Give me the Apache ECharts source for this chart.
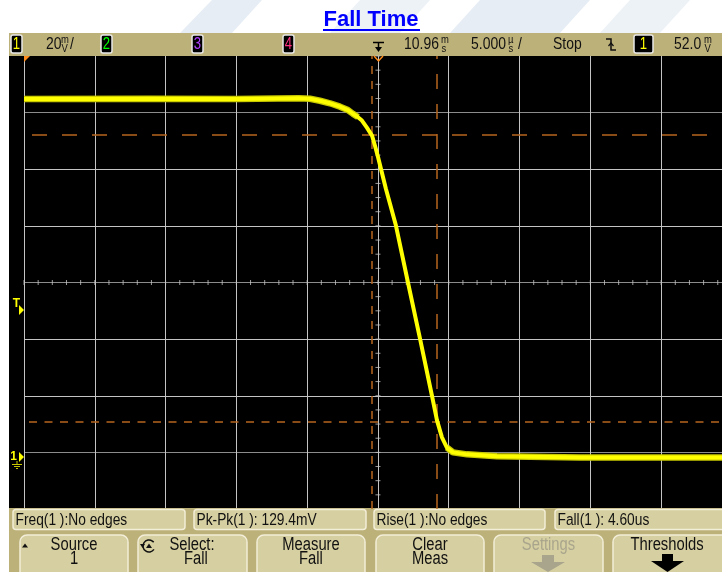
<!DOCTYPE html>
<html>
<head>
<meta charset="utf-8">
<script src="https://cdn.jsdelivr.net/npm/echarts@6.0.0/dist/echarts.min.js"></script>
<style>
html, body { margin: 0; padding: 0; background: #fff; }
#chart { width: 722px; height: 572px; }
</style>
</head>
<body>
<div id="chart"></div>
<script>
// scope settings (status line)
var mvPerDiv = 20;
var usPerDiv = 5;
var centerMv = 61.8;      // level at screen centre, ground marker is ~3.1 div below
var visibleDivs = 9.86;   // the right edge of the screen is cut off in the capture

// channel 1 trace (time in us from trigger, level in mV)
var traceUs = [-25, -16.2, -10, -5.6, -4.8, -4.1, -3.39, -2.68, -2.12, -1.77, -1.41, -1.13, -0.78, -0.42, -0.21, 0, 0.21, 0.56, 1.27, 2.12, 2.97, 3.81, 4.17, 4.52, 4.87, 5.3, 6.29, 8.4, 14.27, 24.3];
var traceMv = [126.6, 126.7, 126.6, 126.9, 126.7, 126.0, 125.1, 123.9, 122.7, 121.4, 120.2, 119.0, 116.5, 113.7, 110.1, 106.2, 102.0, 94.9, 81.9, 61.8, 42.0, 21.9, 13.1, 7.1, 3.5, 1.8, 1.1, 0.4, 0.0, 0.0];

// 90% / 10% threshold levels and the two time markers
var thresholdMv = [114.0, 12.6];
var markerUs = [-0.42, 4.15];

// texts
var measurements = ['Freq(1 ):No edges', 'Pk-Pk(1 ): 129.4mV', 'Rise(1 ):No edges', 'Fall(1 ): 4.60us'];
var softKeys = [['Source', '1'], ['Select:', 'Fall'], ['Measure', 'Fall'], ['Clear', 'Meas'], ['Settings', ''], ['Thresholds', '']];

var FONT = '"Liberation Sans", Arial, sans-serif';
var SQ = 0.82;   // scope font is narrow
var TAN = '#bdb17a';
var KEY = '#d6cfa1';
var ORANGE = '#b8651f';

function toDiv(mv) { return (mv - centerMv) / mvPerDiv; }

var trace = traceUs.map(function (t, i) { return [t, toDiv(traceMv[i])]; });
// noisy flat parts get a darker fringe
var flats = trace.map(function (p) { return (p[0] <= -1.41 || p[0] >= 4.87) ? p : [p[0], null]; });

// graticule ticks on the centre lines
var ticks = [];
for (var i = -25; i <= 25; i++) ticks.push({ value: [i * usPerDiv / 5, 0], symbolSize: [1, 5] });
for (var j = -16; j <= 16; j++) ticks.push({ value: [0, j / 4], symbolSize: [5, 1] });

var g = [];
function box(x, y, w, h, fill, stroke, r, z) {
    g.push({ type: 'rect', z: z || 1, shape: { x: x, y: y, width: w, height: h, r: r || 0 },
        style: { fill: fill, stroke: stroke || null, lineWidth: stroke ? 1.5 : 0 } });
}
function txt(x, y, s, size, fill, align, bold, sx) {
    g.push({ type: 'text', z: 5, x: x, y: y, scaleX: sx || SQ,
        style: { text: s, font: (bold ? 'bold ' : '') + size + 'px ' + FONT, fill: fill || '#111',
            align: align || 'left', verticalAlign: 'middle',
            textAlign: align || 'left', textVerticalAlign: 'middle' } });
}
function poly(points, fill, z) {
    g.push({ type: 'polygon', z: z || 5, shape: { points: points }, style: { fill: fill } });
}
function pline(points, stroke, w, z) {
    g.push({ type: 'polyline', z: z || 5, shape: { points: points }, style: { stroke: stroke, lineWidth: w || 1, fill: null } });
}
function stacked(x, top, bottom) {
    txt(x, 40, top, 10.5, '#111', 'left', false, 0.9);
    txt(x + 0.5, 49, bottom, 10.5, '#111', 'left', false, 0.9);
}

// faint watermark stripes behind the title
poly([[180, 33], [232, 33], [262, 0], [212, 0]], '#e6edf4', 0);
poly([[330, 33], [400, 33], [430, 0], [360, 0]], '#edf2f7', 0);
poly([[450, 33], [560, 33], [590, 0], [480, 0]], '#e6edf4', 0);
poly([[600, 33], [660, 33], [690, 0], [630, 0]], '#edf2f7', 0);

// title
txt(371, 20, 'Fall Time', 22, '#0000ff', 'center', true, 1);
box(323, 29, 97, 2, '#0000ff', null, 0, 5);

// status line
box(9, 33, 713, 23, TAN);
box(9, 56, 15, 452, '#000');
var chBoxes = [[11, '1', '#ffff00'], [101, '2', '#00ff00'], [192, '3', '#b040ff'], [283, '4', '#ff3080']];
chBoxes.forEach(function (c) {
    box(c[0], 35, 11, 18, '#000', '#e8e8e8', 2, 3);
    txt(c[0] + 5.5, 44.5, c[1], 16, c[2], 'center');
});
txt(46, 44, '20', 17);
stacked(61, 'm', 'V');
txt(70, 44, '/', 17);
// trigger position icon
pline([[373, 42.5], [384, 42.5]], '#000', 1.5);
pline([[378.5, 42.5], [378.5, 49]], '#000', 1.5);
poly([[375, 47], [382, 47], [378.5, 52]], '#000');
txt(404, 44, '10.96', 17);
stacked(441, 'm', 's');
txt(471, 44, '5.000', 17);
stacked(508, 'µ', 's');
txt(518, 44, '/', 17);
txt(553, 44, 'Stop', 17);
// falling edge trigger symbol
pline([[606, 39], [611, 39], [611, 50], [616, 50]], '#111', 1.5);
pline([[608.5, 46], [611, 43], [613.5, 46]], '#111', 1.2);
box(634, 35, 19, 18, '#000', '#e8e8e8', 2, 3);
txt(643.5, 44.5, '1', 16, '#ffff00', 'center');
txt(674, 44, '52.0', 17);
stacked(704, 'm', 'V');

// screen markers
poly([[24, 56], [30, 56], [24, 62]], '#ff8c1a', 100);
pline([[374, 56], [378.5, 61], [383, 56]], '#ff8c1a', 1.5, 100);
txt(16.5, 304, 'T', 12, '#ffff00', 'center', true, 1);
poly([[19, 305], [24, 310], [19, 315]], '#ffff00');
txt(13.5, 457, '1', 12, '#ffff00', 'center', true, 1);
poly([[19, 452], [24, 457], [19, 462]], '#ffff00');
pline([[17, 461], [17, 464]], '#c8c800', 1);
pline([[12, 464.5], [22, 464.5]], '#c8c800', 1);
pline([[14, 466.5], [20, 466.5]], '#c8c800', 1);
pline([[16, 468.5], [18, 468.5]], '#c8c800', 1);

// measurement line
box(9, 508, 713, 64, TAN);
var mBoxes = [[13, 172], [194, 172], [374, 171], [555, 175]];
mBoxes.forEach(function (b, k) {
    box(b[0], 509.5, b[1], 20, KEY, '#f2eed8', 3, 2);
    txt(b[0] + 2.5, 520, measurements[k], 16.8);
});

// soft keys
var keyX = [[20, 108], [138, 109], [257, 108], [376, 108], [494, 109], [613, 120]];
keyX.forEach(function (k, n) {
    box(k[0], 535, k[1], 45, KEY, '#f2eed8', 7, 2);
    var cx = k[0] + k[1] / 2;
    if (n === 5) cx = 667;
    var col = n === 4 ? '#a9a58c' : '#111';
    var lbl = softKeys[n];
    if (n === 1) {
        txt(192, 545.5, lbl[0], 18, col, 'center');
        txt(196, 559.5, lbl[1], 18, col, 'center');
    } else {
        txt(cx, 545.5, lbl[0], 18, col, 'center');
        if (lbl[1]) txt(cx, 559.5, lbl[1], 18, col, 'center');
    }
});
poly([[22, 547.5], [28, 547.5], [25, 543.5]], '#111');
g.push({ type: 'arc', z: 5, shape: { cx: 149, cy: 546, r: 6, startAngle: 0.6, endAngle: 5.6 }, style: { stroke: '#111', lineWidth: 1.5, fill: null } });
poly([[146, 548], [152, 548], [149, 543.5]], '#111');
poly([[140, 544], [145, 544], [142.5, 548]], '#111');
// arrows under Settings and Thresholds
box(542, 555, 12, 7, '#a9a58c', null, 0, 5);
poly([[531, 562], [565, 562], [548, 572]], '#a9a58c');
box(662, 554, 11, 7, '#000', null, 0, 5);
poly([[651, 561], [684, 561], [667.5, 572]], '#000');

var chart = echarts.init(document.getElementById('chart'));
chart.setOption({
    backgroundColor: '#fff',
    animation: false,
    grid: { left: 24, top: 56, right: 0, bottom: 63, show: true, backgroundColor: '#000', borderWidth: 0 },
    xAxis: {
        type: 'value', min: -5 * usPerDiv, max: -5 * usPerDiv + visibleDivs * usPerDiv, interval: usPerDiv,
        axisLine: { show: false }, axisTick: { show: false }, axisLabel: { show: false },
        splitLine: { show: true, showMaxLine: false, lineStyle: { color: '#c4c4c4', width: 1 } }
    },
    yAxis: {
        type: 'value', min: -4, max: 4, interval: 1,
        axisLine: { show: false }, axisTick: { show: false }, axisLabel: { show: false },
        splitLine: { show: true, showMinLine: false, showMaxLine: false,
            lineStyle: { color: ['#8c8c8c', '#c4c4c4', '#c4c4c4', '#8c8c8c', '#c4c4c4', '#c4c4c4', '#8c8c8c'], width: 1 } }
    },
    graphic: { elements: g },
    series: [
        {
            type: 'scatter', symbol: 'rect', data: ticks, silent: true, z: 1,
            itemStyle: { color: '#c4c4c4' }
        },
        {
            type: 'line', data: [], silent: true, z: 3,
            markLine: {
                silent: true, symbol: 'none', animation: false,
                label: { show: false },
                data: [
                    { yAxis: toDiv(thresholdMv[0]), lineStyle: { color: ORANGE, width: 1.5, type: [15, 15], dashOffset: 22 } },
                    { yAxis: toDiv(thresholdMv[1]), lineStyle: { color: ORANGE, width: 1.5, type: [8, 7.5], dashOffset: 10.5 } },
                    { xAxis: markerUs[0], lineStyle: { color: ORANGE, width: 1.5, type: [8, 7], dashOffset: 0 } },
                    { xAxis: markerUs[1], lineStyle: { color: ORANGE, width: 1.5, type: [15, 15], dashOffset: 0 } }
                ]
            }
        },
        {
            type: 'line', data: flats, showSymbol: false, silent: true, z: 4, connectNulls: false,
            lineStyle: { color: '#c8c800', width: 6.5 }
        },
        {
            type: 'line', data: trace, showSymbol: false, silent: true, z: 5,
            lineStyle: { color: '#ffff00', width: 4 }
        }
    ]
});
</script>
</body>
</html>
